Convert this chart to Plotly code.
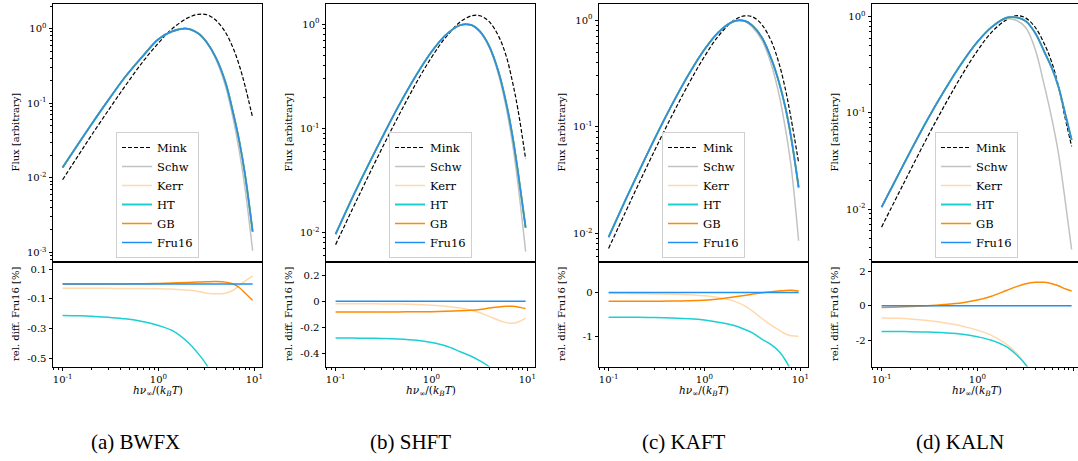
import plotly.graph_objects as go

W, H = 1078, 461

# ---------------- data ----------------
x_energy = [0.1, 0.15, 0.2, 0.3, 0.45, 0.7, 1.0, 1.4, 2.0, 2.6, 3.2, 4.0, 5.0, 6.0, 7.0, 8.0, 9.6]

panel_captions = ["(a) BWFX", "(b) SHFT", "(c) KAFT", "(d) KALN"]
series_names = ["Mink", "Schw", "Kerr", "HT", "GB", "Fru16"]

# (a) BWFX
bwfx_mink = [0.0094, 0.021, 0.037, 0.080, 0.17, 0.37, 0.64, 1.00, 1.38, 1.55, 1.53, 1.28, 0.89, 0.55, 0.315, 0.17, 0.064]
bwfx_schw = [0.0137, 0.030, 0.052, 0.110, 0.225, 0.44, 0.72, 0.92, 0.995, 0.86, 0.64, 0.38, 0.17, 0.063, 0.022, 0.0072, 0.00105]
bwfx_fru16 = [0.0137, 0.030, 0.052, 0.110, 0.225, 0.44, 0.72, 0.92, 0.995, 0.86, 0.65, 0.40, 0.19, 0.075, 0.030, 0.011, 0.0019]
bwfx_rel_kerr = [-0.028, -0.028, -0.029, -0.029, -0.030, -0.030, -0.031, -0.034, -0.040, -0.050, -0.062, -0.066, -0.062, -0.042, -0.008, 0.020, 0.055]
bwfx_rel_ht = [-0.212, -0.214, -0.217, -0.225, -0.235, -0.255, -0.28, -0.315, -0.39, -0.47, -0.55, -0.68, -0.87, -1.1, -1.35, -1.6, -2.1]
bwfx_rel_gb = [0.0, 0.0, 0.0, 0.0, 0.001, 0.002, 0.004, 0.007, 0.011, 0.014, 0.016, 0.017, 0.013, 0.0, -0.025, -0.06, -0.11]

# (b) SHFT
shft_mink = [0.0077, 0.0169, 0.0293, 0.0627, 0.13, 0.277, 0.479, 0.744, 1.052, 1.20, 1.205, 1.056, 0.771, 0.50, 0.28, 0.15, 0.051]
shft_schw = [0.0097, 0.0218, 0.0376, 0.079, 0.162, 0.329, 0.542, 0.783, 0.979, 0.98, 0.84, 0.60, 0.33, 0.16, 0.072, 0.029, 0.0066]
shft_fru16 = [0.0097, 0.0218, 0.0376, 0.079, 0.162, 0.329, 0.542, 0.783, 0.979, 0.98, 0.853, 0.615, 0.35, 0.178, 0.085, 0.038, 0.0112]
shft_rel_kerr = [-0.018, -0.018, -0.019, -0.020, -0.021, -0.024, -0.030, -0.038, -0.052, -0.068, -0.088, -0.115, -0.145, -0.163, -0.168, -0.158, -0.128]
shft_rel_ht = [-0.28, -0.281, -0.282, -0.284, -0.288, -0.298, -0.315, -0.34, -0.385, -0.42, -0.455, -0.50, -0.57, -0.65, -0.74, -0.84, -1.0]
shft_rel_gb = [-0.082, -0.082, -0.082, -0.082, -0.081, -0.080, -0.079, -0.077, -0.073, -0.068, -0.062, -0.052, -0.043, -0.038, -0.038, -0.043, -0.056]

# (c) KAFT
kaft_mink = [0.0072, 0.0158, 0.0275, 0.059, 0.123, 0.262, 0.455, 0.711, 0.985, 1.095, 1.07, 0.90, 0.629, 0.391, 0.223, 0.12, 0.046]
kaft_schw = [0.0092, 0.0205, 0.0355, 0.076, 0.156, 0.32, 0.53, 0.77, 0.97, 0.975, 0.85, 0.64, 0.38, 0.20, 0.095, 0.043, 0.0085]
kaft_fru16 = [0.0092, 0.0205, 0.0355, 0.076, 0.156, 0.32, 0.53, 0.77, 0.97, 0.985, 0.88, 0.68, 0.43, 0.26, 0.15, 0.08, 0.027]
kaft_rel_kerr = [-0.023, -0.024, -0.026, -0.030, -0.037, -0.050, -0.075, -0.11, -0.19, -0.30, -0.43, -0.60, -0.75, -0.86, -0.95, -0.99, -1.0]
kaft_rel_ht = [-0.563, -0.565, -0.568, -0.573, -0.582, -0.60, -0.63, -0.68, -0.75, -0.84, -0.93, -1.07, -1.2, -1.35, -1.55, -1.8, -2.3]
kaft_rel_gb = [-0.2, -0.2, -0.2, -0.198, -0.195, -0.19, -0.175, -0.145, -0.10, -0.065, -0.035, -0.005, 0.02, 0.038, 0.05, 0.052, 0.035]

# (d) KALN
kaln_mink = [0.0065, 0.0145, 0.0255, 0.056, 0.118, 0.255, 0.445, 0.69, 0.93, 1.03, 0.97, 0.78, 0.52, 0.33, 0.19, 0.10, 0.045]
kaln_schw = [0.0105, 0.023, 0.040, 0.085, 0.17, 0.34, 0.55, 0.78, 0.95, 0.91, 0.77, 0.46, 0.19, 0.085, 0.038, 0.015, 0.0038]
kaln_fru16 = [0.0105, 0.023, 0.040, 0.085, 0.17, 0.34, 0.55, 0.78, 0.98, 0.985, 0.90, 0.68, 0.43, 0.29, 0.187, 0.11, 0.0525]
kaln_rel_kerr = [-0.70, -0.72, -0.76, -0.85, -0.98, -1.17, -1.40, -1.70, -2.20, -2.76, -3.40, -4.3, -5.5, -6.7, -8.0, -9.3, -11.5]
kaln_rel_ht = [-1.47, -1.48, -1.49, -1.51, -1.55, -1.63, -1.78, -1.98, -2.35, -2.86, -3.40, -4.2, -5.3, -6.5, -7.8, -9.0, -11.0]
kaln_rel_gb = [-0.09, -0.07, -0.045, 0.0, 0.07, 0.18, 0.33, 0.55, 0.88, 1.12, 1.27, 1.35, 1.35, 1.27, 1.15, 1.0, 0.85]

fru16_rel = [0.0] * len(x_energy)

# tick labels
flux_tick_vals = [1e-3, 1e-2, 1e-1, 1.0]
flux_tick_text = ["10<sup>-3</sup>", "10<sup>-2</sup>", "10<sup>-1</sup>", "10<sup>0</sup>"]
energy_tick_vals = [0.1, 1.0, 10.0]
energy_tick_text = ["10<sup>-1</sup>", "10<sup>0</sup>", "10<sup>1</sup>"]
rel_tick_vals = [
    [0.1, -0.1, -0.3, -0.5],
    [0.2, 0.0, -0.2, -0.4],
    [0.0, -1.0],
    [2.0, 0.0, -2.0],
]
rel_tick_text = [
    ["0.1", "-0.1", "-0.3", "-0.5"],
    ["0.2", "0", "-0.2", "-0.4"],
    ["0", "-1"],
    ["2", "0", "-2"],
]

panels = [
    dict(flux=dict(Mink=bwfx_mink, Schw=bwfx_schw, Kerr=bwfx_fru16, HT=bwfx_fru16, GB=bwfx_fru16, Fru16=bwfx_fru16),
         rel=dict(Kerr=bwfx_rel_kerr, HT=bwfx_rel_ht, GB=bwfx_rel_gb, Fru16=fru16_rel)),
    dict(flux=dict(Mink=shft_mink, Schw=shft_schw, Kerr=shft_fru16, HT=shft_fru16, GB=shft_fru16, Fru16=shft_fru16),
         rel=dict(Kerr=shft_rel_kerr, HT=shft_rel_ht, GB=shft_rel_gb, Fru16=fru16_rel)),
    dict(flux=dict(Mink=kaft_mink, Schw=kaft_schw, Kerr=kaft_fru16, HT=kaft_fru16, GB=kaft_fru16, Fru16=kaft_fru16),
         rel=dict(Kerr=kaft_rel_kerr, HT=kaft_rel_ht, GB=kaft_rel_gb, Fru16=fru16_rel)),
    dict(flux=dict(Mink=kaln_mink, Schw=kaln_schw, Kerr=kaln_fru16, HT=kaln_fru16, GB=kaln_fru16, Fru16=kaln_fru16),
         rel=dict(Kerr=kaln_rel_kerr, HT=kaln_rel_ht, GB=kaln_rel_gb, Fru16=fru16_rel)),
]

# ---------------- styling / layout ----------------
colors = dict(Mink="black", Schw="#c2c2c2", Kerr="#ffd9ad", HT="#1ccfd2", GB="#ff8a00", Fru16="#2190ee")
widths = dict(Mink=1.2, Schw=1.5, Kerr=1.5, HT=2.0, GB=1.5, Fru16=1.5)

lefts = [53, 326, 599, 872]
pw = 209
flux_ranges = [[-3.13, 0.336], [-2.28, 0.198], [-2.27, 0.156], [-2.55, 0.139]]
rel_ranges = [[-0.557, 0.149], [-0.498, 0.30], [-1.693, 0.70], [-3.49, 2.52]]
x_range = [-1.1, 1.08]

top_dom = [1 - 262 / H, 1 - 3.5 / H]
bot_dom = [1 - 366.5 / H, 1 - 262 / H]

FONT = "DejaVu Serif, Liberation Serif, serif"
tickfont = dict(family=FONT, size=10, color="black")

log_minor = [m * 10.0 ** k for k in range(-4, 2) for m in range(2, 10)]

fig = go.Figure()
layout = dict(
    width=W, height=H,
    margin=dict(l=0, r=0, t=0, b=0, pad=0),
    paper_bgcolor="white", plot_bgcolor="white",
    showlegend=True,
    annotations=[],
)

for i, p in enumerate(panels):
    nt, nb = 2 * i + 1, 2 * i + 2
    legname = "legend" if i == 0 else f"legend{i + 1}"
    left = lefts[i]
    right = min(W, left + pw)
    xr = [x_range[0], x_range[0] + (x_range[1] - x_range[0]) * (right - left) / pw]
    xdom = [left / W, right / W]
    last = (i == 3)

    for name in series_names:
        fig.add_trace(go.Scatter(
            x=x_energy, y=p["flux"][name], name=name, mode="lines",
            line=dict(color=colors[name], width=widths[name], shape="spline", smoothing=1.0,
                      dash="4px,2px" if name == "Mink" else "solid"),
            xaxis=f"x{nt}", yaxis=f"y{nt}", legend=legname, showlegend=True,
        ))
    for name in ["Kerr", "HT", "GB", "Fru16"]:
        fig.add_trace(go.Scatter(
            x=x_energy, y=p["rel"][name], name=name, mode="lines",
            line=dict(color=colors[name], width=1.5, shape="spline", smoothing=1.0),
            xaxis=f"x{nb}", yaxis=f"y{nb}", showlegend=False,
        ))

    common_line = dict(showline=True, linecolor="black", linewidth=1, showgrid=False, zeroline=False)

    layout[f"xaxis{nt}"] = dict(domain=xdom, type="log", range=xr, anchor=f"y{nt}",
                                showticklabels=False, ticks="", mirror=True, **common_line)
    layout[f"yaxis{nt}"] = dict(domain=top_dom, type="log", range=flux_ranges[i], anchor=f"x{nt}",
                                tickmode="array", tickvals=flux_tick_vals, ticktext=flux_tick_text,
                                ticks="outside", ticklen=3.5, tickwidth=1, tickcolor="black",
                                tickfont=tickfont, mirror=not last,
                                minor=dict(tickmode="array", tickvals=log_minor, ticks="outside",
                                           ticklen=2, tickwidth=0.8, tickcolor="black", showgrid=False),
                                **common_line)
    layout[f"xaxis{nb}"] = dict(domain=xdom, type="log", range=xr, anchor=f"y{nb}",
                                tickmode="array", tickvals=energy_tick_vals, ticktext=energy_tick_text,
                                ticks="outside", ticklen=3.5, tickwidth=1, tickcolor="black",
                                tickfont=tickfont, mirror=True,
                                minor=dict(tickmode="array", tickvals=log_minor, ticks="outside",
                                           ticklen=2, tickwidth=0.8, tickcolor="black", showgrid=False),
                                **common_line)
    layout[f"yaxis{nb}"] = dict(domain=bot_dom, range=rel_ranges[i], anchor=f"x{nb}",
                                tickmode="array", tickvals=rel_tick_vals[i], ticktext=rel_tick_text[i],
                                ticks="outside", ticklen=3.5, tickwidth=1, tickcolor="black",
                                tickfont=tickfont, mirror=not last, **common_line)

    cx = left + pw / 2
    layout[legname] = dict(
        x=cx / W, xanchor="center", y=1 - 258 / H, yanchor="bottom",
        bgcolor="rgba(255,255,255,0.85)", bordercolor="#d0d0d0", borderwidth=1,
        font=dict(family=FONT, size=11.5, color="black"), tracegroupgap=0, itemwidth=30,
    )

    ann = layout["annotations"]
    ann.append(dict(text="Flux [arbitrary]", x=(left - 38) / W, y=1 - 132.5 / H,
                    xref="paper", yref="paper", textangle=-90, showarrow=False,
                    xanchor="center", yanchor="middle", font=dict(family=FONT, size=10, color="black")))
    ann.append(dict(text="rel. diff. Fru16 [%]", x=(left - 38) / W, y=1 - 314 / H,
                    xref="paper", yref="paper", textangle=-90, showarrow=False,
                    xanchor="center", yanchor="middle", font=dict(family=FONT, size=10, color="black")))
    ann.append(dict(text="<i>hν</i><sub>∞</sub>/(<i>k</i><sub><i>B</i></sub><i>T</i>)",
                    x=cx / W, y=1 - 391 / H, xref="paper", yref="paper", showarrow=False,
                    xanchor="center", yanchor="middle", font=dict(family=FONT, size=10.5, color="black")))

caption_centers = [135, 410, 684, 960]
for cap, cxp in zip(panel_captions, caption_centers):
    layout["annotations"].append(dict(text=cap, x=cxp / W, y=1 - 442 / H, xref="paper", yref="paper",
                                      showarrow=False, xanchor="center", yanchor="middle",
                                      font=dict(family="Liberation Serif", size=21, color="black")))

fig.update_layout(**layout)
fig.write_html("out.html", config={"displayModeBar": False},
               post_script="document.body.style.margin='0';document.body.style.overflow='hidden';")
